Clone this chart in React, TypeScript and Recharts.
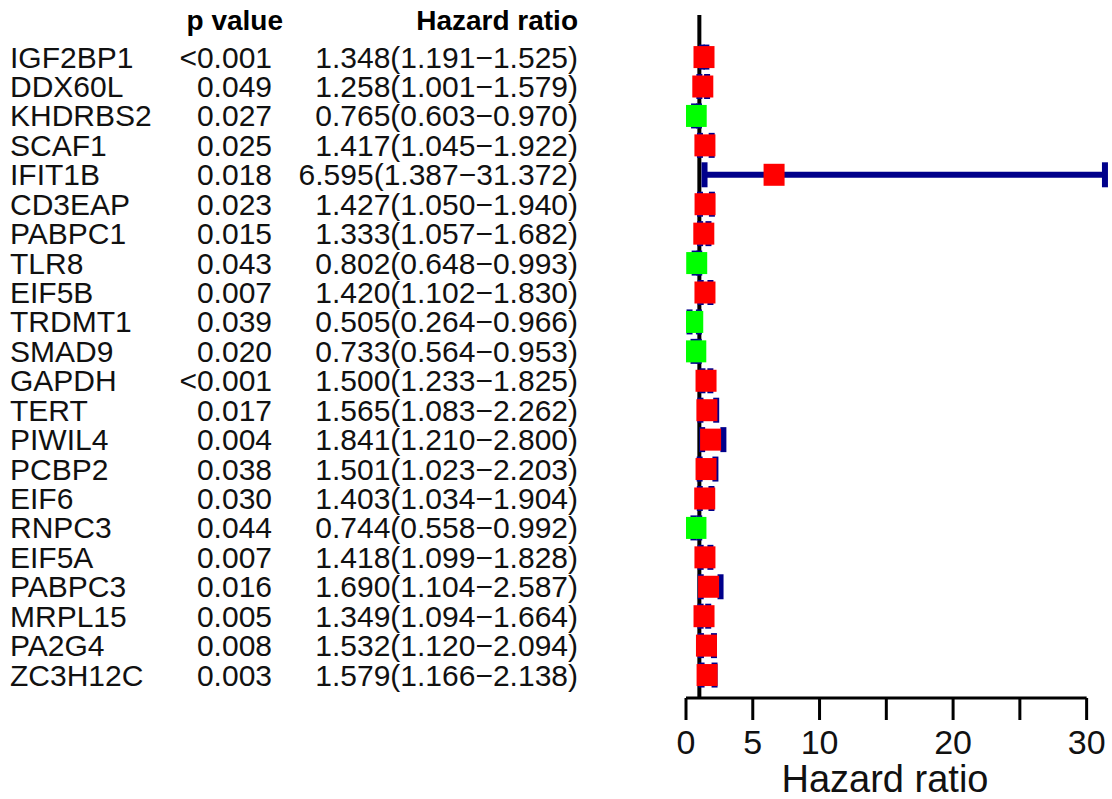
import React from 'react';
import { ScatterChart, Scatter, XAxis, YAxis, ErrorBar, ReferenceLine } from 'recharts';

// values
const genes = ['IGF2BP1', 'DDX60L', 'KHDRBS2', 'SCAF1', 'IFIT1B', 'CD3EAP', 'PABPC1', 'TLR8', 'EIF5B', 'TRDMT1', 'SMAD9',
  'GAPDH', 'TERT', 'PIWIL4', 'PCBP2', 'EIF6', 'RNPC3', 'EIF5A', 'PABPC3', 'MRPL15', 'PA2G4', 'ZC3H12C'];
const pValues = ['<0.001', '0.049', '0.027', '0.025', '0.018', '0.023', '0.015', '0.043', '0.007', '0.039', '0.020',
  '<0.001', '0.017', '0.004', '0.038', '0.030', '0.044', '0.007', '0.016', '0.005', '0.008', '0.003'];
const hr = [1.348, 1.258, 0.765, 1.417, 6.595, 1.427, 1.333, 0.802, 1.420, 0.505, 0.733,
  1.500, 1.565, 1.841, 1.501, 1.403, 0.744, 1.418, 1.690, 1.349, 1.532, 1.579];
const lower = [1.191, 1.001, 0.603, 1.045, 1.387, 1.050, 1.057, 0.648, 1.102, 0.264, 0.564,
  1.233, 1.083, 1.210, 1.023, 1.034, 0.558, 1.099, 1.104, 1.094, 1.120, 1.166];
const upper = [1.525, 1.579, 0.970, 1.922, 31.372, 1.940, 1.682, 0.993, 1.830, 0.966, 0.953,
  1.825, 2.262, 2.800, 2.203, 1.904, 0.992, 1.828, 2.587, 1.664, 2.094, 2.138];
const xTicks = [0, 5, 10, 15, 20, 25, 30];
const xTickLabels = ['0', '5', '10', '', '20', '', '30'];

const HEADER = -1.25;
const Y_BOTTOM = 21.78;
const data = genes.map((g, i) => ({
  row: i,
  gene: g,
  p: pValues[i],
  hr: hr[i],
  ci: [hr[i] - lower[i], upper[i] - hr[i]],
  label: `${hr[i].toFixed(3)}(${lower[i].toFixed(3)}\u2212${upper[i].toFixed(3)})`,
}));

const font = '"Liberation Sans", Arial, sans-serif';

const RowTick = (props: any) => {
  const v = props.payload.value;
  const y = props.y;
  if (v === HEADER) {
    return (
      <g fontFamily={font} fontSize={28} fontWeight="bold" fill="#000">
        <text x={283} y={y} dy="0.35em" textAnchor="end">p value</text>
        <text x={578} y={y} dy="0.35em" textAnchor="end">Hazard ratio</text>
      </g>
    );
  }
  const d = data[v];
  if (!d) return null;
  return (
    <g fontFamily={font} fontSize={30} fill="#111">
      <text x={10} y={y} dy="0.35em" textAnchor="start">{d.gene}</text>
      <text x={272} y={y} dy="0.35em" textAnchor="end">{d.p}</text>
      <text x={578} y={y} dy="0.35em" textAnchor="end">{d.label}</text>
    </g>
  );
};

const Box = (props: any) => {
  const { cx, cy, payload } = props;
  return <rect x={cx - 10.5} y={cy - 11} width={21} height={22} fill={payload.hr < 1 ? '#00ff00' : '#ff0000'} />;
};

export default function App() {
  return (
    <div style={{ position: 'absolute', left: 0, top: 0, background: '#fff' }}>
      <ScatterChart width={1112} height={799} margin={{ top: 15, right: 4, bottom: 1, left: 0 }}>
        <XAxis
          type="number"
          dataKey="hr"
          domain={[0, 31.6]}
          allowDataOverflow
          ticks={xTicks}
          tickFormatter={(v: number) => xTickLabels[xTicks.indexOf(v)]}
          axisLine={false}
          tickLine={{ stroke: '#000', strokeWidth: 3 }}
          tickSize={22}
          tickMargin={10}
          height={100}
          tick={{ fontSize: 34, fill: '#111', fontFamily: font }}
          interval={0}
          label={{ value: 'Hazard ratio', position: 'insideBottom', offset: 6, dx: -12, fontSize: 38, fill: '#111', fontFamily: font }}
        />
        <YAxis
          type="number"
          dataKey="row"
          reversed
          domain={[-1.43, Y_BOTTOM]}
          allowDataOverflow
          ticks={[HEADER, ...data.map((d) => d.row)]}
          interval={0}
          axisLine={false}
          tickLine={false}
          width={686}
          tick={<RowTick />}
        />
        <ReferenceLine x={1} stroke="#000" strokeWidth={4} />
        <ReferenceLine segment={[{ x: 0, y: Y_BOTTOM }, { x: 30, y: Y_BOTTOM }]} stroke="#000" strokeWidth={3} ifOverflow="visible" />
        <Scatter data={data} shape={<Box />} isAnimationActive={false}>
          <ErrorBar dataKey="ci" direction="x" stroke="#00008b" strokeWidth={6} width={12.5} isAnimationActive={false} />
        </Scatter>
      </ScatterChart>
    </div>
  );
}
